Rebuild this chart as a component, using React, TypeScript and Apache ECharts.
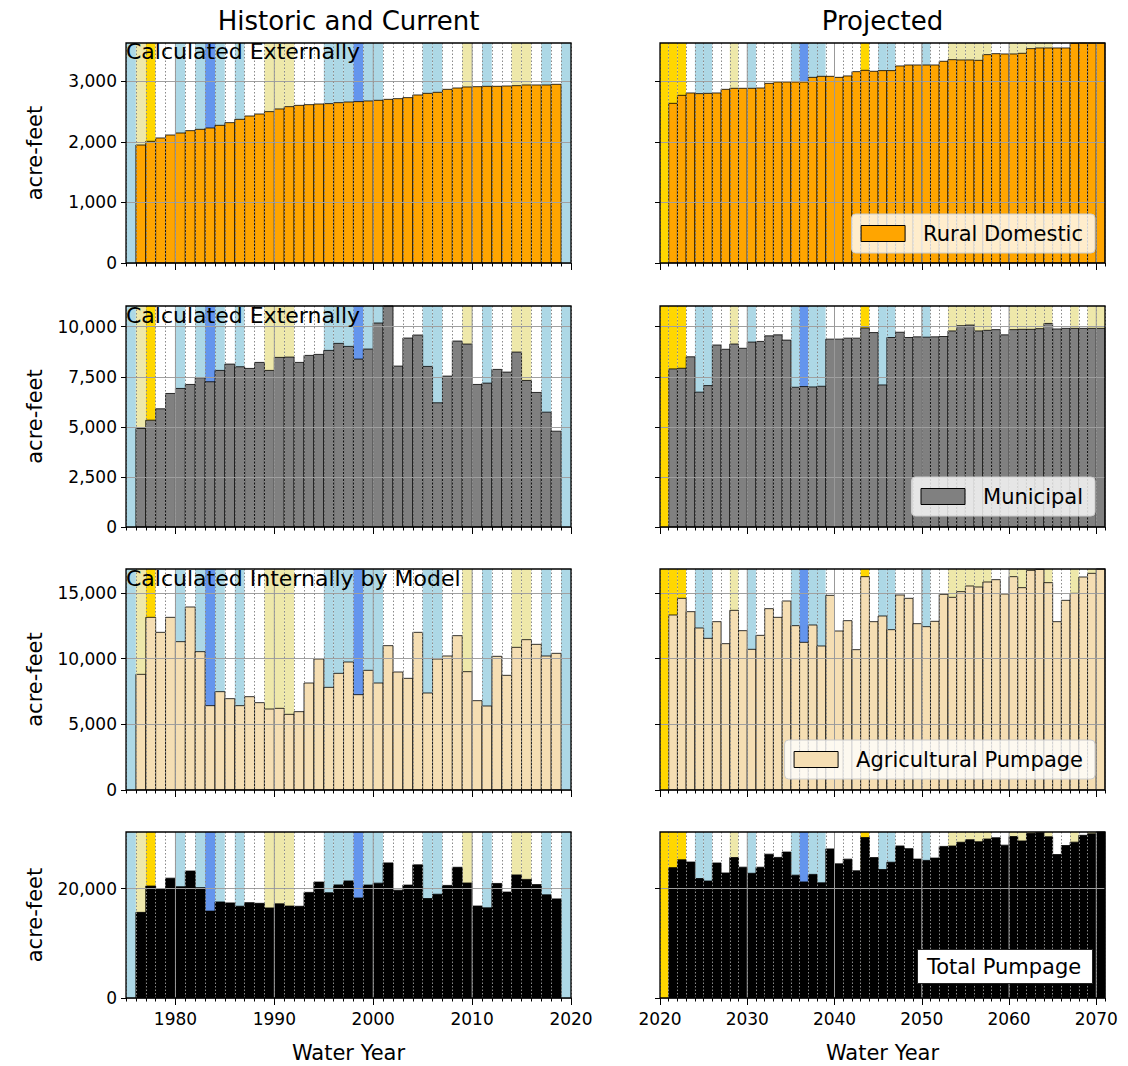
import React, { useEffect, useRef } from 'react';
import * as echarts from 'echarts';

const FONT = '"DejaVu Sans", Verdana, sans-serif';

// Water-year type per year: C critical, D dry, N normal, W wet, V very wet
const histYearTypes = ['W','D','C','N','N','W','N','W','V','W','N','W','N','N','D','D','D','N','N','N','W','W','W','V','W','W','N','N','N','N','W','W','N','N','D','N','W','N','N','D','D','N','W','N','W'];
const projYearTypes = ['C','C','C','N','W','W','N','N','D','N','W','N','N','N','N','W','V','W','W','N','N','N','N','C','N','W','W','N','N','N','W','N','N','D','D','D','D','D','N','N','D','D','D','D','D','N','N','D','N','D','D'];
const TYPE_KEYS = ['C', 'D', 'N', 'W', 'V'];
const TYPE_COLORS: Record<string, string> = { C: '#FFD700', D: '#EEE8AA', N: '#FFFFFF', W: '#ADD8E6', V: '#6495ED' };

const HIST_BAND_START = 1975;
const PROJ_BAND_START = 2020;
const HIST_FIRST_YEAR = 1976;
const PROJ_FIRST_YEAR = 2021;

// Historic and current, water years 1976-2018 (acre-feet)
const histRural = [1948,2009,2064,2113,2146,2185,2207,2229,2273,2317,2372,2427,2460,2499,2543,2581,2603,2614,2625,2631,2647,2658,2664,2675,2686,2702,2713,2730,2774,2801,2818,2867,2889,2906,2911,2917,2917,2922,2928,2939,2939,2939,2950];
const histMunicipal = [4917,5333,5900,6667,6917,7117,7450,7250,7817,8133,8000,7917,8217,7817,8467,8483,8217,8567,8617,8817,9167,9017,8383,8883,10183,11033,8033,9433,9583,8017,6200,7533,9283,9133,7117,7183,7867,7733,8733,7317,6717,5733,4783];
const histAg = [8807,13147,12005,13147,11294,13934,10533,6421,7487,6954,6421,7106,6650,6167,6218,5761,5964,8147,9975,7817,8883,9746,7259,9112,8147,10990,8985,8502,12005,7386,9975,10203,11751,9010,6802,6396,10178,8731,10863,11447,11091,10203,10406];
const histTotal = [15672,20489,19969,21927,20357,23236,20190,15900,17577,17404,16793,17450,17327,16483,17228,16825,16784,19328,21217,19265,20697,21421,18306,20670,21016,24725,19731,20665,24362,18204,18993,20603,23923,21049,16830,16496,20962,19386,22524,21703,20747,18875,18139];

// Projected, water years 2021-2070 (acre-feet)
const projRural = [2636,2768,2807,2796,2801,2807,2867,2884,2884,2884,2889,2966,2988,2988,2988,2988,3065,3082,3082,3065,3088,3159,3181,3165,3176,3176,3253,3269,3269,3269,3269,3330,3357,3352,3352,3346,3440,3456,3451,3451,3462,3539,3550,3550,3550,3550,3627,3632,3632,3632];
const projMunicipal = [7892,7925,8497,6732,7059,9085,8873,9134,8922,9232,9265,9542,9592,9330,6977,7010,6993,7026,9379,9379,9428,9428,9935,9706,7092,9461,9722,9461,9493,9477,9493,9510,9788,10049,10082,9788,9820,9853,9592,9853,9869,9869,9902,10163,9886,9918,9918,9918,9918,9918];
const projAg = [13325,14594,13579,12335,11548,12817,11142,13680,12132,10711,11776,13807,13147,14391,12513,11243,12564,10965,14822,12107,12893,10685,16243,12817,13249,12208,14848,14594,12665,12436,12843,14898,14670,15101,15533,15457,15838,16015,14924,16243,15406,16725,16802,15787,12817,14441,14974,16218,16497,16827];
const projTotal = [23853,25287,24883,21863,21408,24709,22882,25698,23938,22827,23930,26315,25727,26709,22478,21241,22622,21073,27283,24551,25409,23272,29359,25688,23517,24845,27823,27324,25427,25182,25605,27738,27815,28502,28967,28591,29098,29324,27967,29547,28737,30133,30254,29500,26253,27909,28519,29768,30047,30377];

// Axis ticks
const histXTicks = [1980, 1990, 2000, 2010, 2020];
const projXTicks = [2020, 2030, 2040, 2050, 2060, 2070];
const ruralYTicks = [0, 1000, 2000, 3000];
const municipalYTicks = [0, 2500, 5000, 7500, 10000];
const agYTicks = [0, 5000, 10000, 15000];
const totalYTicks = [0, 20000];

const HIST_RANGE = [1975, 2020];
const PROJ_RANGE = [2020, 2071];

const rows = [
  { name: 'Rural Domestic', color: '#FFA500', hist: histRural, proj: projRural, ticks: ruralYTicks, note: 'Calculated Externally', legend: true },
  { name: 'Municipal', color: '#808080', hist: histMunicipal, proj: projMunicipal, ticks: municipalYTicks, note: 'Calculated Externally', legend: true },
  { name: 'Agricultural Pumpage', color: '#F5DEB3', hist: histAg, proj: projAg, ticks: agYTicks, note: 'Calculated Internally by Model', legend: true },
  { name: 'Total Pumpage', color: '#000000', hist: histTotal, proj: projTotal, ticks: totalYTicks, note: '', legend: false },
];

const ROW_LAYOUT = [
  { top: 43, height: 220, noteY: 51.5, legendTop: 214 },
  { top: 306, height: 221, noteY: 315.5, legendTop: 477 },
  { top: 569, height: 221, noteY: 578, legendTop: 740 },
  { top: 832, height: 166, noteY: 0, legendTop: 949 },
];
const COL_LEFT = [126, 660];
const PANEL_W = 445;

const fmt = (v: number) => String(Math.round(v)).replace(/\B(?=(\d{3})+(?!\d))/g, ',');

function buildOption() {
  const grid: any[] = [];
  const xAxis: any[] = [];
  const yAxis: any[] = [];
  const series: any[] = [];
  const legend: any[] = [];
  const graphic: any[] = [];
  const title: any[] = [];

  rows.forEach((row, r) => {
    const lay = ROW_LAYOUT[r];
    const yMax = Math.max(...row.hist, ...row.proj);
    const interval = row.ticks[1] - row.ticks[0];
    [0, 1].forEach((c) => {
      const g = r * 2 + c;
      const range = c === 0 ? HIST_RANGE : PROJ_RANGE;
      const decades = c === 0 ? histXTicks : projXTicks;
      const vals = c === 0 ? row.hist : row.proj;
      const firstYear = c === 0 ? HIST_FIRST_YEAR : PROJ_FIRST_YEAR;
      const types = c === 0 ? histYearTypes : projYearTypes;
      const bandStart = c === 0 ? HIST_BAND_START : PROJ_BAND_START;

      grid.push({
        left: COL_LEFT[c], top: lay.top, width: PANEL_W, height: lay.height,
        show: true, borderColor: '#000', borderWidth: 1.3, backgroundColor: 'transparent', z: 10,
      });
      const minorIdx = xAxis.length;
      // minor axis: a tick and dotted grid line every year
      xAxis.push({
        type: 'value', gridIndex: g, min: range[0], max: range[1], interval: 1, position: 'bottom', z: 3,
        axisLine: { show: false, onZero: false },
        axisTick: { show: true, length: 3.5, lineStyle: { color: '#000', width: 1 } },
        axisLabel: { show: false },
        splitLine: { show: true, lineStyle: { color: '#8a8a8a', width: 1, type: [1.5, 2] } },
      });
      // major axis: decade ticks and labels
      xAxis.push({
        type: 'value', gridIndex: g, min: range[0], max: range[1], interval: c === 0 ? 5 : 10, position: 'bottom', z: 4,
        axisLine: { show: false, onZero: false },
        axisTick: { show: true, length: 7, customValues: decades, lineStyle: { color: '#000', width: 1 } },
        axisLabel: {
          show: r === 3, customValues: decades, fontSize: 17, color: '#000', fontFamily: FONT, margin: 12,
          formatter: (v: number) => (v % 10 === 0 ? String(v) : ''),
        },
        splitLine: { show: false },
        name: r === 3 ? 'Water Year' : '', nameLocation: 'middle', nameGap: 44,
        nameTextStyle: { fontSize: 21, color: '#000', fontFamily: FONT },
      });
      yAxis.push({
        type: 'value', gridIndex: g, min: 0, max: yMax, interval, z: 3,
        axisLine: { show: false },
        axisTick: { show: true, length: 5, customValues: row.ticks, lineStyle: { color: '#000', width: 1 } },
        axisLabel: { show: c === 0, customValues: row.ticks, formatter: fmt, fontSize: 17, color: '#000', fontFamily: FONT, margin: 9 },
        splitLine: { show: true, lineStyle: { color: '#a0a0a0', width: 1 } },
        name: c === 0 ? 'acre-feet' : '', nameLocation: 'middle', nameGap: 81, nameRotate: 90,
        nameTextStyle: { fontSize: 21, color: '#000', fontFamily: FONT },
      });

      // water-year type bands
      series.push({
        type: 'custom', name: 'bands' + g, coordinateSystem: 'cartesian2d', xAxisIndex: minorIdx, yAxisIndex: g, z: 1, silent: true,
        data: types.map((t, i) => [bandStart + i, 0, TYPE_KEYS.indexOf(t)]),
        encode: { x: 0, y: 1 },
        renderItem: (params: any, api: any) => {
          const code = TYPE_KEYS[api.value(2)];
          const x0 = api.coord([api.value(0), 0])[0];
          const x1 = api.coord([api.value(0) + 1, 0])[0];
          const cs = params.coordSys;
          return { type: 'rect', shape: { x: x0, y: cs.y, width: x1 - x0, height: cs.height }, style: { fill: TYPE_COLORS[code] } };
        },
      });
      // bars
      const color = row.color;
      series.push({
        type: 'custom', name: row.name, coordinateSystem: 'cartesian2d', xAxisIndex: minorIdx, yAxisIndex: g, z: 2,
        itemStyle: { color },
        data: vals.map((v, i) => [firstYear + i, v]),
        encode: { x: 0, y: 1 },
        renderItem: (params: any, api: any) => {
          const yr = api.value(0);
          const p0 = api.coord([yr, api.value(1)]);
          const p1 = api.coord([yr + 1, 0]);
          return {
            type: 'rect',
            shape: { x: p0[0], y: p0[1], width: p1[0] - p0[0], height: p1[1] - p0[1] },
            style: { fill: color, stroke: '#000', lineWidth: 0.8 },
          };
        },
      });
      // major vertical grid lines
      series.push({
        type: 'custom', name: 'vgrid' + g, coordinateSystem: 'cartesian2d', xAxisIndex: minorIdx, yAxisIndex: g, z: 5, silent: true,
        data: decades.filter((d) => d > range[0] && d < range[1]).map((d) => [d, 0]),
        encode: { x: 0, y: 1 },
        renderItem: (params: any, api: any) => {
          const x = api.coord([api.value(0), 0])[0];
          const cs = params.coordSys;
          return { type: 'line', shape: { x1: x, y1: cs.y, x2: x, y2: cs.y + cs.height }, style: { stroke: '#999999', lineWidth: 1 } };
        },
      });
    });

    if (row.note) {
      graphic.push({
        type: 'text', x: 126, y: lay.noteY, z: 20,
        style: { text: row.note, fontSize: 22, fontFamily: FONT, fill: '#000', align: 'left', verticalAlign: 'middle', textAlign: 'left', textVerticalAlign: 'middle' },
      });
    }
    if (row.legend) {
      legend.push({
        data: [row.name], right: 33, top: lay.legendTop, orient: 'horizontal', icon: 'rect',
        itemWidth: 44, itemHeight: 16, padding: [9, 12, 9, 9], selectedMode: false,
        backgroundColor: 'rgba(255,255,255,0.8)', borderColor: '#cccccc', borderWidth: 1, borderRadius: 4,
        itemStyle: { borderColor: '#000', borderWidth: 1 },
        textStyle: { fontSize: 21, color: '#000', fontFamily: FONT, padding: [0, 0, 0, 13] },
        z: 12,
      });
    } else {
      title.push({
        text: row.name, left: 917, top: lay.legendTop, padding: [7, 12, 7, 10],
        backgroundColor: '#ffffff', borderColor: '#222', borderWidth: 1, z: 12,
        textStyle: { fontSize: 21, fontWeight: 'normal', color: '#000', fontFamily: FONT },
      });
    }
  });

  graphic.push({
    type: 'text', x: 348.5, y: 21, z: 20,
    style: { text: 'Historic and Current', fontSize: 26, fontFamily: FONT, fill: '#000', align: 'center', verticalAlign: 'middle', textAlign: 'center', textVerticalAlign: 'middle' },
  });
  graphic.push({
    type: 'text', x: 882.5, y: 21, z: 20,
    style: { text: 'Projected', fontSize: 26, fontFamily: FONT, fill: '#000', align: 'center', verticalAlign: 'middle', textAlign: 'center', textVerticalAlign: 'middle' },
  });

  return {
    animation: false,
    backgroundColor: '#ffffff',
    textStyle: { fontFamily: FONT },
    title, grid, xAxis, yAxis, series, legend, graphic,
  };
}

export default function App() {
  const ref = useRef<HTMLDivElement>(null);
  useEffect(() => {
    const chart = echarts.init(ref.current as HTMLDivElement, null, { renderer: 'svg' });
    chart.setOption(buildOption() as any);
    return () => chart.dispose();
  }, []);
  return <div ref={ref} style={{ position: 'absolute', left: 0, top: 0, width: 1128, height: 1066, background: '#fff' }} />;
}
